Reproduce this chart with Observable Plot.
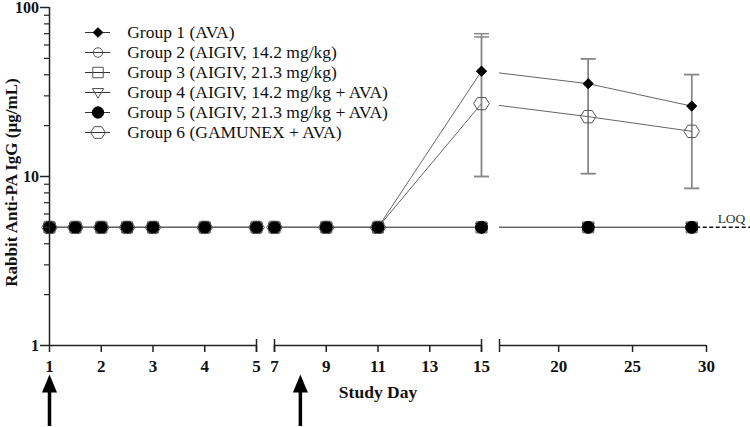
<!DOCTYPE html>
<html><head><meta charset="utf-8">
<script src="https://cdn.jsdelivr.net/npm/d3@7"></script>
<script src="https://cdn.jsdelivr.net/npm/@observablehq/plot@0.6"></script>
<style>
body{margin:0;background:#fff;}
#chart{position:relative;width:750px;height:427px;}
#chart svg{position:absolute;left:0;top:0;}
</style></head><body><div id="chart"></div>
<script>
// ---- data ----
const groups = [
  "Group 1 (AVA)",
  "Group 2 (AIGIV, 14.2 mg/kg)",
  "Group 3 (AIGIV, 21.3 mg/kg)",
  "Group 4 (AIGIV, 14.2 mg/kg + AVA)",
  "Group 5 (AIGIV, 21.3 mg/kg + AVA)",
  "Group 6 (GAMUNEX + AVA)"
];
const days = [1, 1.5, 2, 2.5, 3, 4, 5, 7, 9, 11, 15, 22, 29];
const g1 = [5, 5, 5, 5, 5, 5, 5, 5, 5, 5, 42, 35.4, 26.1];
const g2 = [5, 5, 5, 5, 5, 5, 5, 5, 5, 5, 5, 5, 5];
const g3 = [5, 5, 5, 5, 5, 5, 5, 5, 5, 5, 5, 5, 5];
const g4 = [5, 5, 5, 5, 5, 5, 5, 5, 5, 5, 5, 5, 5];
const g5 = [5, 5, 5, 5, 5, 5, 5, 5, 5, 5, 5, 5, 5];
const g6 = [5, 5, 5, 5, 5, 5, 5, 5, 5, 5, 27, 22.6, 18.5];
const errDays = [15, 22, 29];
const g1Hi = [70, 49.7, 40.1];
const g1Lo = [10, 10.4, 8.5];
const g6Hi = [67, 49.7, 40.1];
const g6Lo = [10, 10.4, 8.5];
const loq = 5;
const arrowDays = [1, 8];
const xTicks1 = [1, 2, 3, 4, 5];
const xTicks2 = [7, 9, 11, 13, 15];
const xTicks3 = [20, 25, 30];
const yTicks = [1, 10, 100];
const yMinor = [2, 3, 4, 5, 6, 7, 8, 9, 20, 30, 40, 50, 60, 70, 80, 90];
const yLabel = "Rabbit Anti-PA IgG (\u00b5g/mL)";
const xLabel = "Study Day";

// ---- tables ----
const series = [g1, g2, g3, g4, g5, g6];
const rows = groups.flatMap((g, i) => days.map((d, j) => ({group: g, gi: i, day: d, value: series[i][j]})));
const errRows = [
  ...errDays.map((d, j) => ({day: d, lo: g1Lo[j], hi: g1Hi[j]})),
  ...errDays.map((d, j) => ({day: d, lo: g6Lo[j], hi: g6Hi[j]}))
];

// ---- symbols ----
const triDown = {draw(ctx, size) { const r = Math.sqrt(size / Math.PI);
  ctx.moveTo(-r, -0.7 * r); ctx.lineTo(r, -0.7 * r); ctx.lineTo(0, r); ctx.closePath(); }};
const hexFlat = {draw(ctx, size) { const r = Math.sqrt(size / Math.PI); const a = 1.12 * r, b = 0.88 * r;
  ctx.moveTo(-a, 0); ctx.lineTo(-a / 2, -b); ctx.lineTo(a / 2, -b); ctx.lineTo(a, 0);
  ctx.lineTo(a / 2, b); ctx.lineTo(-a / 2, b); ctx.closePath(); }};
const capSym = {draw(ctx, size) { const r = Math.sqrt(size / Math.PI); ctx.moveTo(-r, 0); ctx.lineTo(r, 0); }};
const arrowHead = {draw(ctx, size) { const r = Math.sqrt(size / Math.PI);
  ctx.moveTo(0, -1.6 * r); ctx.lineTo(r, 0.8 * r); ctx.lineTo(-r, 0.8 * r); ctx.closePath(); }};

const groupStyles = [
  {symbol: "diamond2", r: 4.6, fill: "black", stroke: "black"},
  {symbol: "circle", r: 5, fill: "none", stroke: "#555"},
  {symbol: "square", r: 6.2, fill: "none", stroke: "#555"},
  {symbol: triDown, r: 6, fill: "none", stroke: "#555"},
  {symbol: "circle", r: 6, fill: "black", stroke: "black"},
  {symbol: hexFlat, r: 7, fill: "none", stroke: "#555"}
];

const W = 750, H = 427, MT = 7, MB = 82;
const segments = [
  {domain: [1, 5], left: 49, right: 256, ticks: xTicks1, ends: [5]},
  {domain: [7, 15], left: 274, right: 481, ticks: xTicks2, ends: [7, 15]},
  {domain: [16, 30], left: 499, right: 706, ticks: xTicks3, ends: [16]}
];
const FONT = "'Liberation Serif', 'Times New Roman', serif";
const chart = document.getElementById("chart");

segments.forEach((seg, si) => {
  const inSeg = d => d >= seg.domain[0] && d <= seg.domain[1];
  const segRows = rows.filter(r => inSeg(r.day));
  const segErr = errRows.filter(r => inSeg(r.day));
  const marks = [];
  // error bars
  marks.push(Plot.ruleX(segErr, {x: "day", y1: "lo", y2: "hi", stroke: "#888", strokeWidth: 1.5}));
  marks.push(Plot.dot(segErr, {x: "day", y: "hi", symbol: capSym, r: 7.5, stroke: "#888", strokeWidth: 1.5, fill: "none"}));
  marks.push(Plot.dot(segErr, {x: "day", y: "lo", symbol: capSym, r: 7.5, stroke: "#888", strokeWidth: 1.5, fill: "none"}));
  // lines (clipped to this axis segment)
  marks.push(Plot.line(rows, {x: "day", y: "value", z: "group", stroke: "#666", strokeWidth: 1, clip: true}));
  // markers
  groupStyles.forEach((st, gi) => {
    marks.push(Plot.dot(segRows.filter(r => r.gi === gi), {x: "day", y: "value", ...st, strokeWidth: 1}));
  });
  // x axis
  marks.push(Plot.ruleY([1], {stroke: "#222", strokeWidth: 1.5}));
  marks.push(Plot.axisX(seg.ticks, {tickSize: 7, tickPadding: 7, tickFormat: d => String(d), label: null,
    stroke: "#222", strokeWidth: 1.5, fill: "#111", fontSize: 17, fontWeight: "bold"}));
  marks.push(Plot.ruleX(seg.ends, {stroke: "#222", strokeWidth: 1.5, insetTop: 345 - MT - 6, insetBottom: -7}));
  // arrows for dosing days
  const segArrows = arrowDays.filter(inSeg);
  marks.push(Plot.ruleX(segArrows, {stroke: "black", strokeWidth: 3.5, insetTop: 388 - MT, insetBottom: -(426 - 345)}));
  marks.push(Plot.dot(segArrows, {x: d => d, frameAnchor: "bottom", dy: 41, symbol: arrowHead, r: 7.5, fill: "black", stroke: "none"}));
  if (si === 0) {
    marks.push(Plot.ruleX([seg.domain[0]], {stroke: "#222", strokeWidth: 1.5}));
    marks.push(Plot.axisY(yTicks, {tickSize: 9, tickPadding: 1.5, tickFormat: d => String(d), label: null,
      stroke: "#222", strokeWidth: 1.5, fill: "#111", fontSize: 16, fontWeight: "bold"}));
    marks.push(Plot.axisY(yMinor, {tickSize: 5, tickFormat: () => "", label: null, stroke: "#222", strokeWidth: 1.2}));
    marks.push(Plot.text([yLabel], {frameAnchor: "left", text: d => d, rotate: -90, dx: -38, dy: 6,
      textAnchor: "middle", lineAnchor: "middle", fontSize: 17, fontWeight: "bold", fill: "#111"}));
  }
  if (si === 1) {
    marks.push(Plot.text([xLabel], {frameAnchor: "bottom", text: d => d, dy: 47, lineAnchor: "middle",
      fontSize: 17.5, fontWeight: "bold", fill: "#111"}));
  }
  if (si === 2) {
    const lastDay = days[days.length - 1];
    marks.push(Plot.ruleY([loq], {y: d => d, x1: lastDay, x2: seg.domain[1], insetLeft: 5, insetRight: -44,
      stroke: "#111", strokeWidth: 1.5, strokeDasharray: "4,2.5"}));
    marks.push(Plot.text(["LOQ"], {y: () => loq, frameAnchor: "right", dx: 25, dy: -9, text: d => d,
      textAnchor: "middle", fontSize: 13.5, fontWeight: "normal", fill: "#333"}));
  }
  const svg = Plot.plot({
    width: W, height: H, marginLeft: seg.left, marginRight: W - seg.right, marginTop: MT, marginBottom: MB,
    x: {domain: seg.domain, axis: null},
    y: {type: "log", domain: [1, 100], axis: null},
    style: {background: "transparent", fontFamily: FONT, overflow: "visible"},
    marks
  });
  chart.appendChild(svg);
});

// legend
const legendMarks = [Plot.ruleY(groups, {y: d => d, x1: 0, x2: 1, stroke: "#333", strokeWidth: 1})];
groupStyles.forEach((st, gi) => {
  legendMarks.push(Plot.dot([groups[gi]], {x: 0.5, y: d => d, ...st, r: st.r * 0.95, strokeWidth: 1}));
});
legendMarks.push(Plot.text(groups, {x: 1, y: d => d, dx: 16.7, text: d => d, textAnchor: "start",
  fontSize: 17.5, fill: "#111"}));
chart.appendChild(Plot.plot({
  width: W, height: H, margin: 0,
  x: {domain: [0, 1], range: [85, 110], axis: null},
  y: {type: "point", domain: groups, range: [31.7, 132.7], padding: 0, axis: null},
  style: {background: "transparent", fontFamily: FONT, overflow: "visible"},
  marks: legendMarks
}));
</script></body></html>
